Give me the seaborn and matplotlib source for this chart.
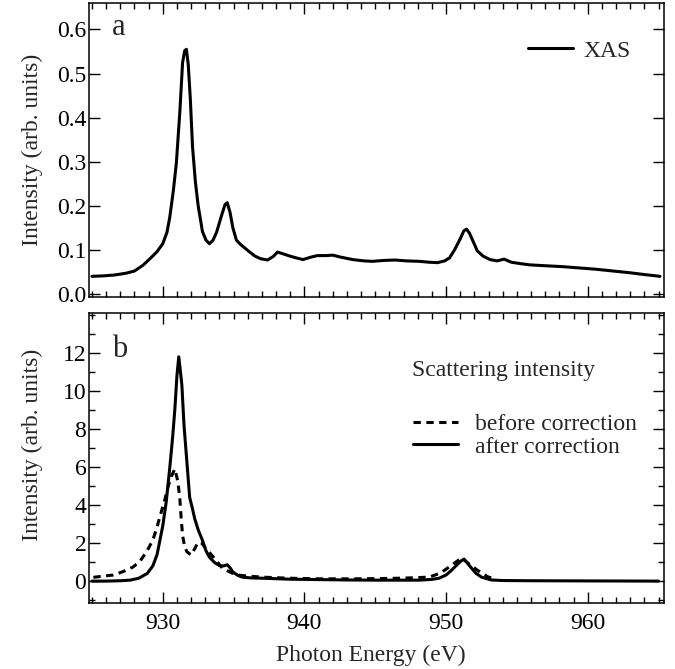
import matplotlib
matplotlib.use("Agg")
import matplotlib.pyplot as plt
from matplotlib.ticker import MultipleLocator, NullLocator
import seaborn as sns
import pandas as pd

# ======================
# Data
# ======================
xas_energy = [925.0, 925.8, 926.6, 927.4, 928.0, 928.6, 929.1, 929.6, 930.0, 930.3,
              930.5, 930.75, 930.96, 931.2, 931.4, 931.55, 931.67, 931.8, 931.95, 932.1,
              932.3, 932.5, 932.8, 933.05, 933.3, 933.55, 933.8, 934.15, 934.4, 934.55,
              934.75, 934.95, 935.2, 935.5, 935.8, 936.1, 936.5, 936.9, 937.4, 937.8,
              938.1, 938.4, 938.96, 939.4, 939.9, 940.4, 940.9, 941.5, 942.0, 942.5,
              943.4, 944.2, 944.8, 945.6, 946.4, 947.2, 948.1, 948.8, 949.4, 949.9,
              950.25, 950.6, 951.0, 951.25, 951.45, 951.65, 951.9, 952.2, 952.6, 953.1,
              953.6, 954.1, 954.6, 955.2, 955.9, 957.0, 958.2, 959.4, 960.6, 961.8,
              963.0, 964.0, 965.1]
xas_intensity = [0.040, 0.041, 0.043, 0.047, 0.052, 0.065, 0.080, 0.096, 0.114, 0.140,
                 0.175, 0.235, 0.297, 0.410, 0.525, 0.552, 0.555, 0.520, 0.440, 0.335,
                 0.255, 0.200, 0.142, 0.122, 0.114, 0.122, 0.140, 0.178, 0.203, 0.207,
                 0.185, 0.150, 0.122, 0.112, 0.104, 0.096, 0.086, 0.080, 0.077, 0.085,
                 0.095, 0.092, 0.086, 0.082, 0.078, 0.083, 0.087, 0.087, 0.088, 0.084,
                 0.078, 0.075, 0.074, 0.076, 0.077, 0.075, 0.074, 0.072, 0.071, 0.075,
                 0.082, 0.100, 0.125, 0.143, 0.147, 0.138, 0.120, 0.098, 0.086, 0.078,
                 0.075, 0.079, 0.072, 0.069, 0.066, 0.064, 0.062, 0.059, 0.056, 0.052,
                 0.048, 0.044, 0.040]

after_energy = [925.0, 926.0, 927.0, 927.7, 928.3, 928.9, 929.3, 929.6, 930.0, 930.25,
                930.5, 930.7, 930.85, 931.0, 931.13, 931.25, 931.35, 931.5, 931.7, 931.9,
                932.1, 932.25, 932.5, 932.8, 933.05, 933.3, 933.65, 934.0, 934.3, 934.55,
                934.75, 934.95, 935.3, 935.6, 936.2, 937.5, 939.0, 941.0, 943.0, 945.0,
                947.0, 948.1, 949.0, 949.5, 950.0, 950.4, 950.8, 951.1, 951.27, 951.5,
                951.8, 952.1, 952.5, 953.2, 954.0, 956.0, 960.0, 965.0]
after_intensity = [0.0, 0.0, 0.02, 0.05, 0.15, 0.40, 0.80, 1.4, 2.9, 4.2,
                   6.0, 7.6, 9.0, 10.8, 11.8, 11.0, 10.3, 8.2, 6.3, 4.4,
                   3.8, 3.3, 2.7, 2.15, 1.6, 1.25, 0.98, 0.82, 0.80, 0.86,
                   0.70, 0.48, 0.30, 0.21, 0.17, 0.14, 0.10, 0.08, 0.06, 0.05,
                   0.05, 0.05, 0.09, 0.15, 0.32, 0.58, 0.88, 1.08, 1.16, 0.95,
                   0.68, 0.42, 0.21, 0.06, 0.03, 0.02, 0.01, 0.0]

before_energy = [925.1, 925.8, 926.5, 927.2, 927.9, 928.4, 928.9, 929.3, 929.6, 929.8,
                 930.14, 930.35, 930.6, 930.85, 931.05, 931.2, 931.3, 931.4, 931.55, 931.7,
                 932.0, 932.25, 932.5, 932.75, 932.95, 933.3, 933.7, 934.2, 934.9, 935.5,
                 936.1, 937.0, 938.0, 939.0, 941.0, 943.0, 945.0, 946.5, 947.5, 948.8,
                 949.6, 950.1, 950.6, 951.06, 951.3, 951.7, 952.2, 952.6, 953.0, 953.3]
before_intensity = [0.20, 0.26, 0.32, 0.50, 0.74, 1.05, 1.6, 2.16, 2.85, 3.4,
                    4.26, 4.9, 5.5, 5.9, 5.3, 4.4, 3.3, 2.4, 1.8, 1.55,
                    1.37, 1.7, 2.05, 2.0, 1.8, 1.5, 1.15, 0.68, 0.42, 0.30,
                    0.26, 0.21, 0.18, 0.15, 0.12, 0.12, 0.13, 0.15, 0.17, 0.21,
                    0.42, 0.68, 0.95, 1.2, 1.1, 0.85, 0.58, 0.38, 0.21, 0.15]

xas_df = pd.DataFrame({"energy": xas_energy, "intensity": xas_intensity})
after_df = pd.DataFrame({"energy": after_energy, "intensity": after_intensity})
before_df = pd.DataFrame({"energy": before_energy, "intensity": before_intensity})

# ======================
# Style
# ======================
sns.set_theme(style="ticks")
plt.rcParams["font.family"] = ["Liberation Serif", "DejaVu Serif"]
plt.rcParams["axes.linewidth"] = 1.1
plt.rcParams["axes.edgecolor"] = "black"

FS = 17

fig = plt.figure(figsize=(6.75, 6.69), dpi=100)
ax_a = fig.add_axes([0.132, 0.556, 0.852, 0.4395])
ax_b = fig.add_axes([0.132, 0.0987, 0.852, 0.4333], sharex=ax_a)

# ======================
# Panel a: XAS
# ======================
sns.lineplot(data=xas_df, x="energy", y="intensity", ax=ax_a, color="black",
             linewidth=2.2, estimator=None, label="XAS")

ax_a.set_ylim(-0.007, 0.66)
ax_a.yaxis.set_major_locator(MultipleLocator(0.1))
ax_a.yaxis.set_minor_locator(NullLocator())
ax_a.set_ylabel("Intensity (arb. units)", fontsize=FS)
ax_a.set_xlabel("")
ax_a.tick_params(axis="x", labelbottom=False)
ax_a.text(0.04, 0.891, "a", transform=ax_a.transAxes, fontsize=22, va="baseline")
ax_a.legend(loc="center left", bbox_to_anchor=(0.763, 0.837), frameon=False,
            fontsize=FS, handlelength=1.9, handletextpad=0.45, borderpad=0,
            borderaxespad=0)

# ======================
# Panel b: scattering intensity
# ======================
sns.lineplot(data=before_df, x="energy", y="intensity", ax=ax_b, color="black",
             linewidth=2.2, estimator=None, linestyle=(0, (2.4, 1.8)),
             label="before correction")
sns.lineplot(data=after_df, x="energy", y="intensity", ax=ax_b, color="black",
             linewidth=2.2, estimator=None, label="after correction")

ax_b.set_ylim(-1.15, 14.1)
ax_b.yaxis.set_major_locator(MultipleLocator(2))
ax_b.yaxis.set_minor_locator(MultipleLocator(1))
ax_b.set_yticks([0, 2, 4, 6, 8, 10, 12])
ax_b.set_ylabel("Intensity (arb. units)", fontsize=FS)
ax_b.set_xlabel("Photon Energy (eV)", fontsize=FS)
ax_b.text(0.04, 0.848, "b", transform=ax_b.transAxes, fontsize=22, va="baseline")
ax_b.text(0.562, 0.803, "Scattering intensity", transform=ax_b.transAxes,
          fontsize=FS, va="center", ha="left")
ax_b.legend(loc="center left", bbox_to_anchor=(0.5635, 0.578), frameon=False,
            fontsize=FS, handlelength=1.9, handletextpad=0.7, borderpad=0,
            borderaxespad=0, labelspacing=0.05)

ax_b.set_xlim(924.8, 965.4)
ax_b.xaxis.set_major_locator(MultipleLocator(10))
ax_b.xaxis.set_minor_locator(MultipleLocator(1))

for ax in (ax_a, ax_b):
    ax.tick_params(which="both", direction="in", top=True, right=True,
                   labelsize=FS, colors="black", width=1.0)
    ax.tick_params(which="major", length=8, pad=2)
    ax.tick_params(which="minor", length=4.5)
    ax.yaxis.set_label_coords(-0.08, 0.5)
    for s in ax.spines.values():
        s.set_color("black")

ax_b.tick_params(axis="x", which="major", pad=7)
ax_b.yaxis.set_label_coords(-0.08, 0.545)
ax_b.xaxis.set_label_coords(0.49, -0.145)

fig.savefig("out.png", dpi=100)
